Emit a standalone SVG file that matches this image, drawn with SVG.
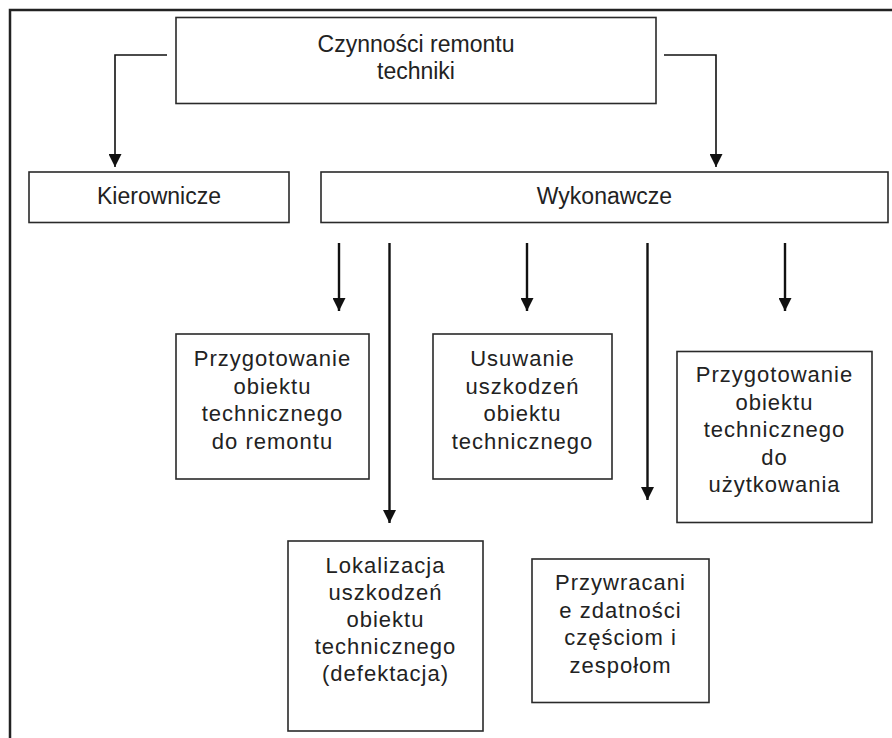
<svg xmlns="http://www.w3.org/2000/svg" width="892" height="738" viewBox="0 0 892 738">
  <defs>
    <marker id="head" viewBox="0 0 13 13" refX="13" refY="6.5" markerWidth="13" markerHeight="13" markerUnits="userSpaceOnUse" orient="auto">
      <path d="M0,0 L13,6.5 L0,13 Z" fill="#111"/>
    </marker>
    <style>
      .frame { fill: none; stroke: #222; stroke-width: 2.5; }
      .box { fill: #fff; stroke: #2a2a2a; stroke-width: 1.6; }
      .lbl { font-family: "Liberation Sans", Arial, sans-serif; font-size: 22px; fill: #222; text-anchor: middle; }
      .top { font-size: 23px; }
      .sm { letter-spacing: 1px; }
      .wire { fill: none; stroke: #111; stroke-width: 1.6; }
      .drop { fill: none; stroke: #111; stroke-width: 2.4; }
    </style>
  </defs>

  <rect width="892" height="738" fill="#fff"/>

  <!-- outer frame, open to the right and bottom -->
  <path class="frame" d="M10,745 V10 H900"/>

  <!-- connectors -->
  <g id="connectors">
    <path class="wire" d="M167,55 H115 V167" marker-end="url(#head)"/>
    <path class="wire" d="M664,55 H716 V167" marker-end="url(#head)"/>
    <path class="drop" d="M339,243 V311" marker-end="url(#head)"/>
    <path class="drop" d="M389.5,243 V523" marker-end="url(#head)"/>
    <path class="drop" d="M527,243 V311" marker-end="url(#head)"/>
    <path class="drop" d="M647.5,243 V500" marker-end="url(#head)"/>
    <path class="drop" d="M785,243 V311" marker-end="url(#head)"/>
  </g>

  <g id="root">
    <rect class="box" x="176" y="17.5" width="480" height="86"/>
    <text class="lbl top" x="416" y="52">Czynności remontu</text>
    <text class="lbl top" x="416" y="79">techniki</text>
  </g>

  <g id="kierownicze">
    <rect class="box" x="29" y="172" width="260" height="50.5"/>
    <text class="lbl top" x="159" y="204">Kierownicze</text>
  </g>

  <g id="wykonawcze">
    <rect class="box" x="321" y="172" width="567" height="50.5"/>
    <text class="lbl top" x="604.5" y="204">Wykonawcze</text>
  </g>

  <g id="przygotowanie-remont">
    <rect class="box" x="176" y="334" width="193" height="145"/>
    <text class="lbl sm" x="272.5" y="366">Przygotowanie</text>
    <text class="lbl sm" x="272.5" y="393.5">obiektu</text>
    <text class="lbl sm" x="272.5" y="421">technicznego</text>
    <text class="lbl sm" x="272.5" y="448.5">do remontu</text>
  </g>

  <g id="usuwanie">
    <rect class="box" x="433" y="334" width="179" height="145"/>
    <text class="lbl sm" x="522.5" y="366">Usuwanie</text>
    <text class="lbl sm" x="522.5" y="393.5">uszkodzeń</text>
    <text class="lbl sm" x="522.5" y="421">obiektu</text>
    <text class="lbl sm" x="522.5" y="448.5">technicznego</text>
  </g>

  <g id="przygotowanie-uzytkowanie">
    <rect class="box" x="677" y="351.5" width="195" height="171"/>
    <text class="lbl sm" x="774.5" y="382">Przygotowanie</text>
    <text class="lbl sm" x="774.5" y="409.5">obiektu</text>
    <text class="lbl sm" x="774.5" y="437">technicznego</text>
    <text class="lbl sm" x="774.5" y="464.5">do</text>
    <text class="lbl sm" x="774.5" y="492">użytkowania</text>
  </g>

  <g id="lokalizacja">
    <rect class="box" x="288" y="541" width="195" height="190"/>
    <text class="lbl sm" x="385.5" y="573">Lokalizacja</text>
    <text class="lbl sm" x="385.5" y="600">uszkodzeń</text>
    <text class="lbl sm" x="385.5" y="627">obiektu</text>
    <text class="lbl sm" x="385.5" y="654">technicznego</text>
    <text class="lbl sm" x="385.5" y="681">(defektacja)</text>
  </g>

  <g id="przywracanie">
    <rect class="box" x="532" y="559" width="177" height="143.5"/>
    <text class="lbl sm" x="620.5" y="590">Przywracani</text>
    <text class="lbl sm" x="620.5" y="617.5">e zdatności</text>
    <text class="lbl sm" x="620.5" y="645">częściom i</text>
    <text class="lbl sm" x="620.5" y="672.5">zespołom</text>
  </g>
</svg>
